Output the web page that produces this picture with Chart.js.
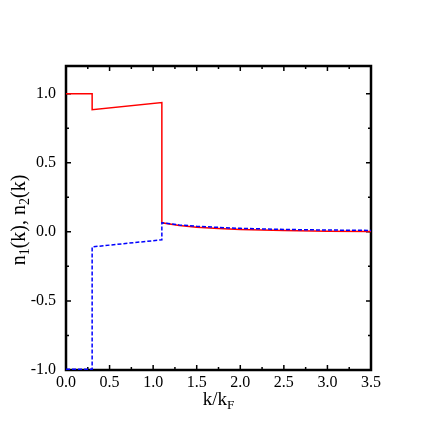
<!DOCTYPE html>
<html>
<head>
<meta charset="utf-8">
<script src="https://cdn.jsdelivr.net/npm/chart.js@4/dist/chart.umd.min.js"></script>
<style>
  html, body { margin: 0; padding: 0; background: #fff; }
</style>
</head>
<body>
<canvas id="chart" width="436" height="436"></canvas>
<script>
// momentum k/kF, with repeated x for the vertical jumps
const kValues  = [0, 0.3, 0.3, 1.1, 1.1, 1.3, 1.5, 1.75, 2.0, 2.5, 3.0, 3.5];
const n1Values = [1.0, 1.0, 0.884, 0.935, 0.065, 0.045, 0.033, 0.024, 0.017, 0.009, 0.004, 0.002];
const n2Values = [-0.995, -0.995, -0.109, -0.058, 0.065, 0.05, 0.04, 0.032, 0.025, 0.017, 0.013, 0.01];
const xTicks = [0, 0.5, 1.0, 1.5, 2.0, 2.5, 3.0, 3.5];
const yTicks = [-1.0, -0.5, 0.0, 0.5, 1.0];
const xMinor = [0.25, 0.75, 1.25, 1.75, 2.25, 2.75, 3.25];
const yMinor = [-0.75, -0.25, 0.25, 0.75];

const serif = '"Liberation Serif", "Times New Roman", serif';

function points(ys) {
  return kValues.map((k, i) => ({ x: k, y: ys[i] }));
}

// draws text runs centred on the origin, parts = [[text, isSub], ...]
function drawSubText(ctx, parts, size) {
  let w = 0;
  parts.forEach(([t, sub]) => {
    ctx.font = (sub ? size * 0.7 : size) + 'px ' + serif;
    w += ctx.measureText(t).width;
  });
  let x = -w / 2;
  parts.forEach(([t, sub]) => {
    ctx.font = (sub ? size * 0.7 : size) + 'px ' + serif;
    ctx.fillText(t, x, sub ? size * 0.28 : 0);
    x += ctx.measureText(t).width;
  });
}

const framePlugin = {
  id: 'frame',
  beforeDatasetsDraw(chart) {
    const { ctx, chartArea: a, scales } = chart;
    const xs = scales.x, ys = scales.y;
    ctx.save();
    ctx.strokeStyle = '#000';
    ctx.lineWidth = 1.5;
    ctx.beginPath();
    const tickX = (vals, len) => {
      vals.forEach(v => {
        const px = xs.getPixelForValue(v);
        ctx.moveTo(px, a.bottom); ctx.lineTo(px, a.bottom - len);
        ctx.moveTo(px, a.top); ctx.lineTo(px, a.top + len);
      });
    };
    const tickY = (vals, len) => {
      vals.forEach(v => {
        const py = ys.getPixelForValue(v);
        ctx.moveTo(a.left, py); ctx.lineTo(a.left + len, py);
        ctx.moveTo(a.right, py); ctx.lineTo(a.right - len, py);
      });
    };
    tickX(xTicks, 5); tickX(xMinor, 3);
    tickY(yTicks, 5); tickY(yMinor, 3);
    ctx.stroke();

    ctx.lineWidth = 2.5;
    ctx.strokeRect(a.left, a.top, a.right - a.left, a.bottom - a.top);

    // axis titles
    ctx.fillStyle = '#000';
    ctx.textBaseline = 'middle';
    ctx.textAlign = 'left';
    ctx.save();
    ctx.translate((a.left + a.right) / 2, 400);
    drawSubText(ctx, [['k/k', false], ['F', true]], 19);
    ctx.restore();

    ctx.save();
    ctx.translate(20, 220);
    ctx.rotate(-Math.PI / 2);
    drawSubText(ctx, [['n', false], ['1', true], ['(k), n', false], ['2', true], ['(k)', false]], 20);
    ctx.restore();
    ctx.restore();
  }
};

new Chart(document.getElementById('chart'), {
  type: 'line',
  data: {
    datasets: [
      {
        label: 'n2',
        data: points(n2Values),
        borderColor: '#0000ff',
        borderWidth: 1.5,
        borderDash: [4, 2],
        pointRadius: 0,
        tension: 0,
        clip: false,
        order: 0
      },
      {
        label: 'n1',
        data: points(n1Values),
        borderColor: '#ff0000',
        borderWidth: 1.5,
        pointRadius: 0,
        tension: 0,
        clip: false,
        order: 1
      }
    ]
  },
  options: {
    responsive: false,
    animation: false,
    layout: { padding: { top: 66, right: 65, left: 0, bottom: 0 } },
    plugins: { legend: { display: false }, tooltip: { enabled: false } },
    scales: {
      x: {
        type: 'linear',
        min: 0,
        max: 3.5,
        grid: { display: false, tickLength: 0 },
        border: { display: false },
        afterBuildTicks: s => { s.ticks = xTicks.map(v => ({ value: v })); },
        afterFit: s => { s.height = 66; },
        ticks: {
          padding: 3,
          maxRotation: 0,
          color: '#000',
          font: { family: serif, size: 16 },
          callback: v => v.toFixed(1)
        }
      },
      y: {
        type: 'linear',
        min: -1.0,
        max: 1.2,
        grid: { display: false, tickLength: 0 },
        border: { display: false },
        afterBuildTicks: s => { s.ticks = yTicks.map(v => ({ value: v })); },
        afterFit: s => { s.width = 66; },
        ticks: {
          padding: 10,
          color: '#000',
          font: { family: serif, size: 16 },
          callback: v => v.toFixed(1)
        }
      }
    }
  },
  plugins: [framePlugin]
});
</script>
</body>
</html>
